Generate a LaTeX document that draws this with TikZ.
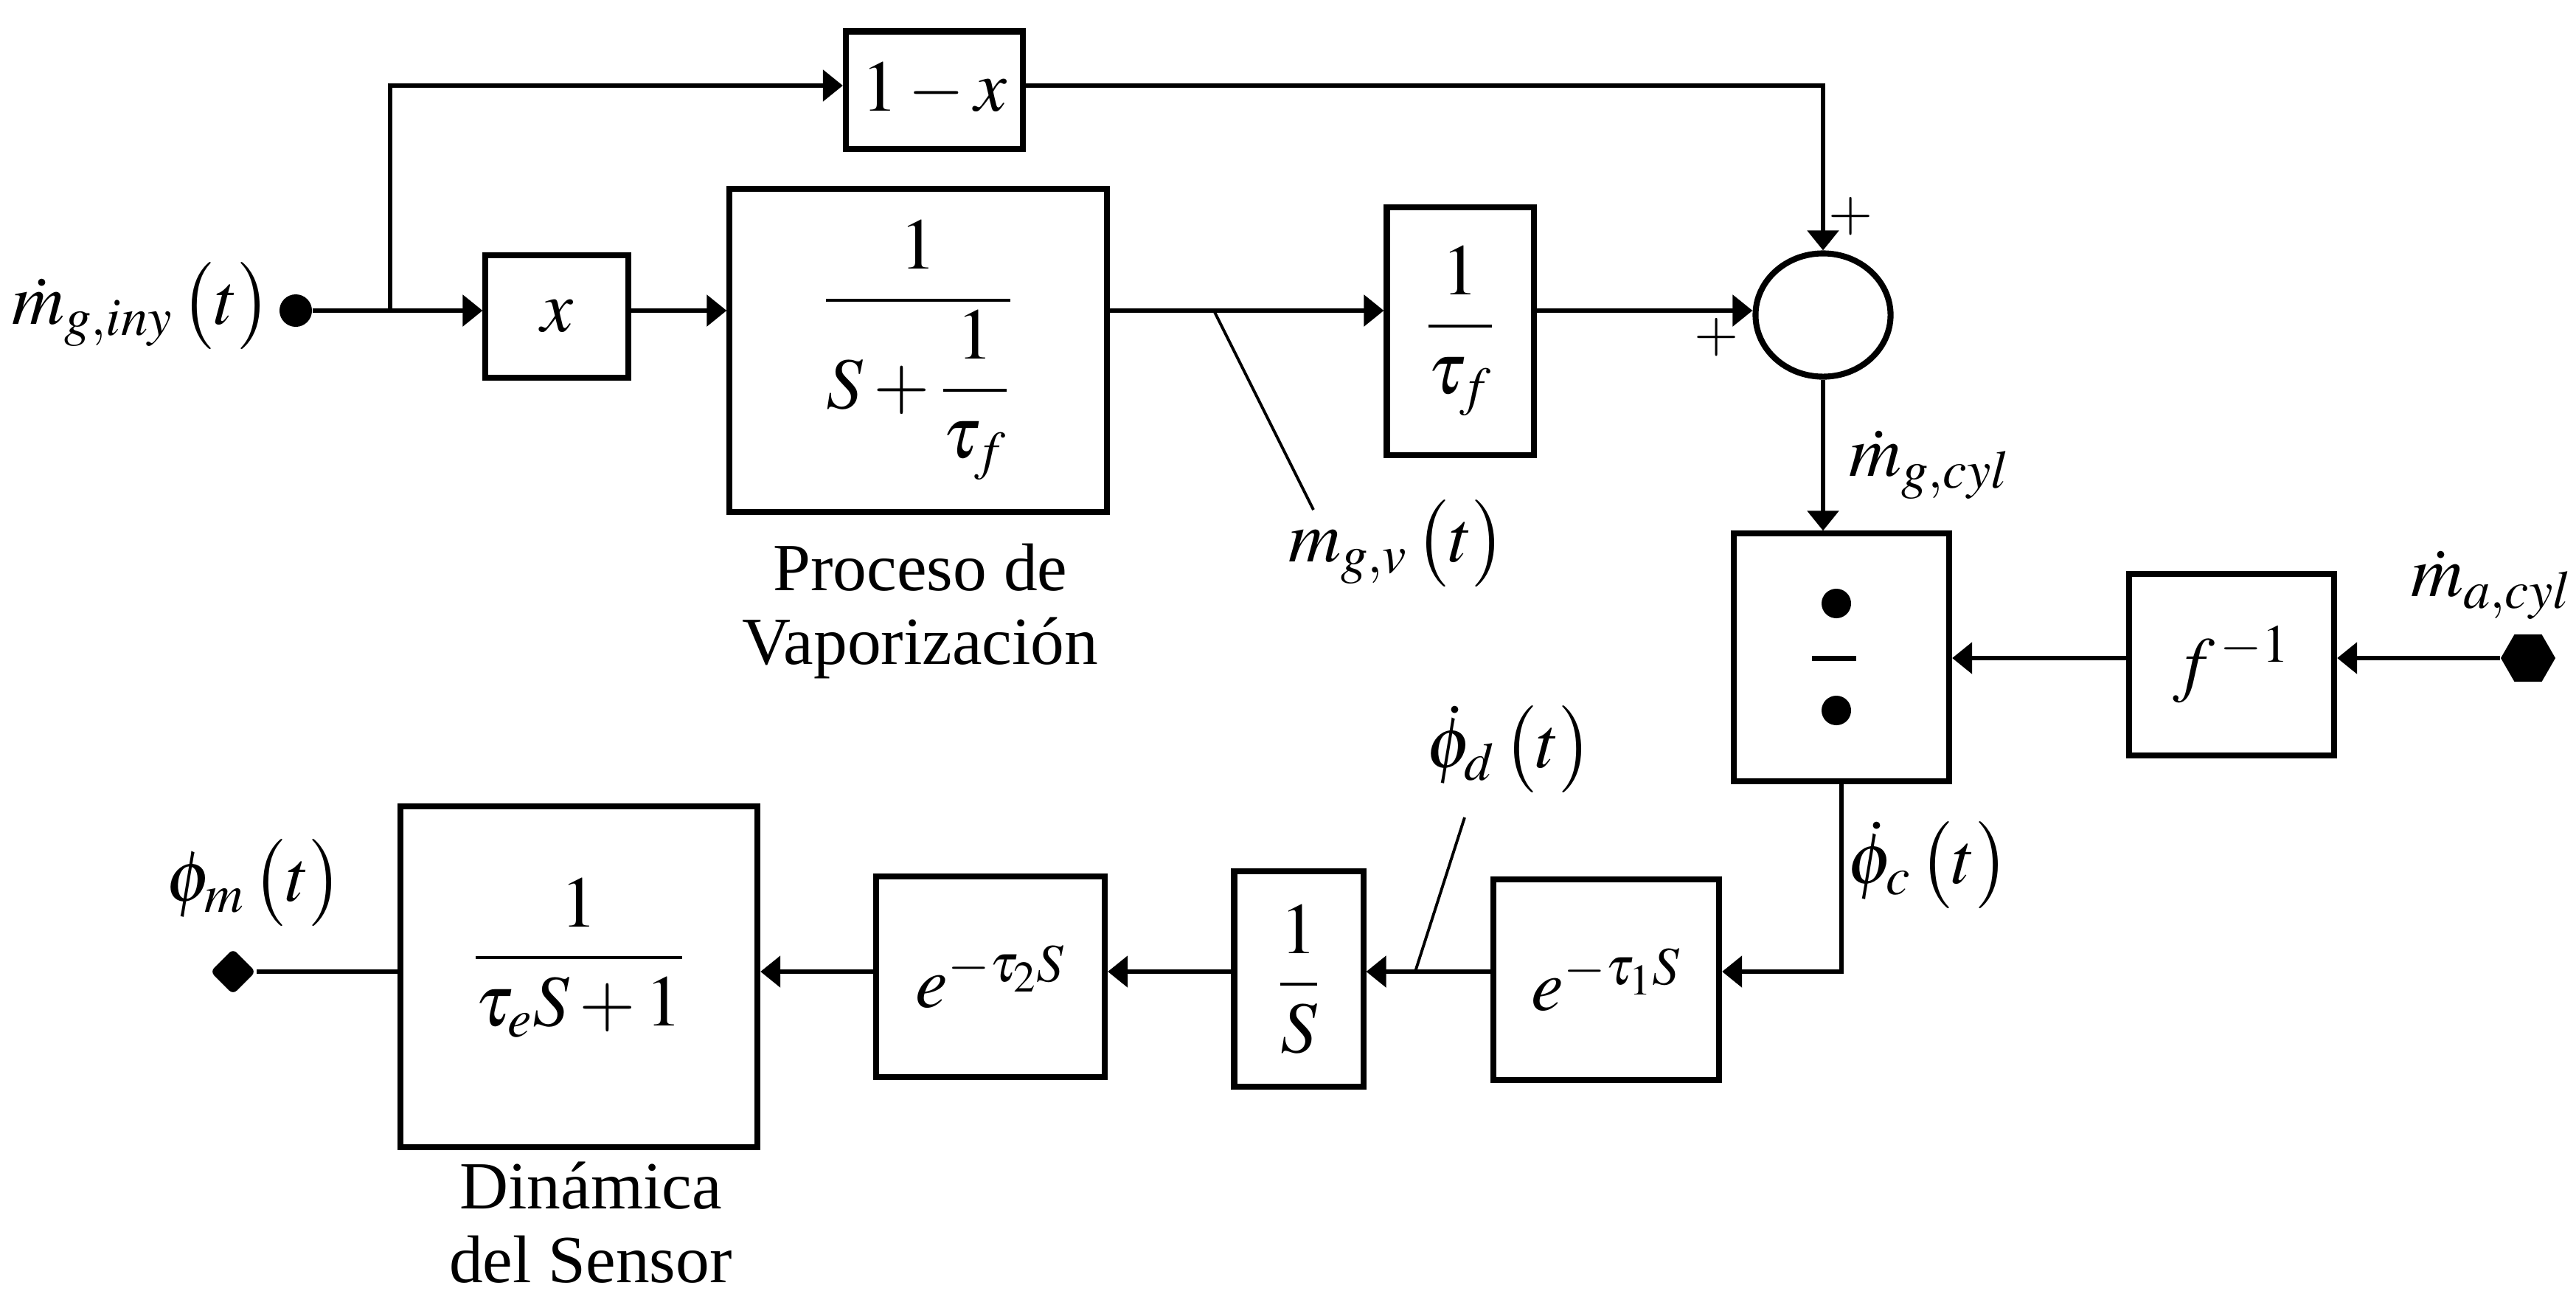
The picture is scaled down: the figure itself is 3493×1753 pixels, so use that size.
\documentclass[tikz,border=0pt]{standalone}
\usepackage{amsmath}
\usepackage{mathptmx}
\usepackage{fontspec}
\setmainfont{Liberation Serif}
\usetikzlibrary{arrows.meta,shapes.geometric}
\newcommand\diagmath{\fontsize{28}{34}\selectfont}
\newcommand\diagtext{\fontsize{26}{28.5}\selectfont}
\newcommand\diagplus{\fontsize{22}{26}\selectfont}
\begin{document}
\begin{tikzpicture}[x=0.01cm,y=-0.01cm,
  blk/.style={draw, line width=2.3pt, inner sep=0pt, font=\diagmath},
  sumnode/.style={draw, ellipse, line width=2.3pt, inner sep=0pt},
  conn/.style={line width=1.6pt, -{Triangle[length=0.27cm,width=0.42cm]}},
  wire/.style={line width=1.6pt},
  ptr/.style={line width=1.1pt},
  lbl/.style={inner sep=0pt, font=\diagmath},
  plus/.style={inner sep=0pt, font=\diagplus},
  txt/.style={inner sep=0pt, align=center, font=\diagtext},
  indot/.style={circle, fill, inner sep=0pt, minimum size=0.44cm},
  hexdot/.style={regular polygon, regular polygon sides=6, fill, inner sep=0pt, minimum size=0.74cm},
  diadot/.style={diamond, fill, inner sep=0pt, minimum size=0.62cm, rounded corners=2pt}
]
\fill[white] (0,0) rectangle (3493,1753);
\useasboundingbox (0,0) rectangle (3493,1753);

% row levels
\coordinate (rt) at (0,116);
\coordinate (r1) at (0,421);
\coordinate (r2) at (0,1317);

% blocks
\node[blk, minimum width=2.40cm, minimum height=1.59cm] (onemx) at (1267,122) {$1-x$};
\node[blk, minimum width=1.93cm, minimum height=1.66cm] (xbox) at (755,429) {$x$};
\node[blk, minimum width=5.11cm, minimum height=4.37cm] (vap) at (1245,475)
  {$\dfrac{1}{S+\dfrac{1}{\tau_f}}$};
\node[blk, minimum width=1.99cm, minimum height=3.35cm] (tauf) at (1980,449) {$\dfrac{1}{\tau_f}$};
\node[sumnode, minimum width=1.83cm, minimum height=1.67cm] (sum) at (2472,427) {};
\node[blk, minimum width=2.92cm, minimum height=3.35cm] (div) at (2497,891) {};
\node[blk, minimum width=2.78cm, minimum height=2.45cm] (finv) at (3026,901) {$f^{\,-1}$};
\node[blk, minimum width=4.84cm, minimum height=4.62cm,
  label={[lbl, name=sensortf, yshift=0.26cm]center:{$\dfrac{1}{\tau_e S+1}$}}] (sensor) at (785,1324) {};
\node[blk, minimum width=3.10cm, minimum height=2.72cm] (e2) at (1343,1324) {$e^{-\tau_2 S}$};
\node[blk, minimum width=1.75cm, minimum height=2.92cm] (invS) at (1761,1327) {$\dfrac{1}{S}$};
\node[blk, minimum width=3.06cm, minimum height=2.72cm] (e1) at (2178,1328) {$e^{-\tau_1 S}$};

% divider symbol inside div
\fill (2490,818) circle (0.2cm);
\fill (2490,963) circle (0.2cm);
\draw[line width=2pt] (2457,892) -- (2517,892);

% terminals
\node[indot] (in) at (401,421) {};
\node[hexdot] (in2) at (3428,892) {};
\node[diadot] (out) at (316,1317) {};
\coordinate (br) at (529,421);

% connectors, top part
\draw[wire] (in) -- (br);
\draw[conn] (br) -- (xbox.west |- r1);
\draw[conn] (br) |- (onemx.west |- rt);
\draw[conn] (onemx.east |- rt) -| (sum.north);
\draw[conn] (xbox.east |- r1) -- (vap.west |- r1);
\draw[conn] (vap.east |- r1) -- (tauf.west |- r1);
\draw[conn] (tauf.east |- r1) -- (sum.west |- r1);
\draw[conn] (sum.south) -- (sum.south |- div.north);
\draw[conn] (in2) -- (finv.east |- in2);
\draw[conn] (finv.west |- in2) -- (div.east |- in2);

% connectors, bottom part
\draw[conn] (div.south) |- (e1.east |- r2);
\draw[conn] (e1.west |- r2) -- (invS.east |- r2);
\draw[conn] (invS.west |- r2) -- (e2.east |- r2);
\draw[conn] (e2.west |- r2) -- (sensor.east |- r2);
\draw[wire] (sensor.west |- r2) -- (out);

% signal labels
\node[lbl, anchor=east] (lin) at (368,415) {$\dot m_{g,iny}\,\bigl(t\bigr)$};
\node[lbl, anchor=west] (lmgv) at (1747,737) {$m_{g,v}\,\bigl(t\bigr)$};
\node[lbl, anchor=west] (lmgc) at (2507,630) {$\dot m_{g,cyl}$};
\node[lbl, anchor=east] (lmac) at (3488,793) {$\dot m_{a,cyl}$};
\node[lbl] (lphid) at (2047,1016) {$\dot\phi_d\,\bigl(t\bigr)$};
\node[lbl] (lphic) at (2615,1173) {$\dot\phi_c\,\bigl(t\bigr)$};
\node[lbl] (lphim) at (345,1197) {$\phi_m\,\bigl(t\bigr)$};

% pointer lines
\coordinate (pv) at (1646,421);
\coordinate (pvend) at (1781,691);
\draw[ptr] (pv) -- (pvend);
\coordinate (pd) at (1919,1317);
\coordinate (pdend) at (1986,1108);
\draw[ptr] (pd) -- (pdend);

% signs
\node[plus] (ptop) at (2510,293) {$+$};
\node[plus] (pleft) at (2328,457) {$+$};

% block captions
\node[txt, anchor=north] (vaplbl) at (1248,736) {Proceso de\\Vaporización};
\node[txt, anchor=north] (senlbl) at (801,1574) {Dinámica\\del Sensor};
\end{tikzpicture}
\end{document}
